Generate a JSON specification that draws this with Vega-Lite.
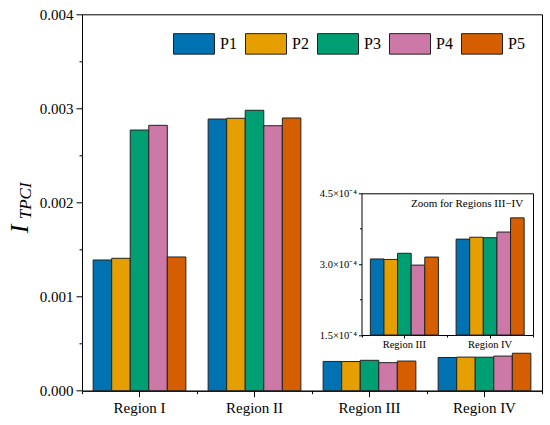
{
  "$schema": "https://vega.github.io/schema/vega-lite/v6.json",
  "width": 460,
  "height": 376.4,
  "autosize": {"type": "none"},
  "padding": {"left": 82, "top": 14.3, "right": 8, "bottom": 34.3},
  "background": "white",
  "config": {
    "font": "Liberation Serif",
    "view": {"stroke": "black", "strokeWidth": 1},
    "axis": {"grid": false, "domainColor": "black", "tickColor": "black", "labelColor": "black", "titleColor": "black", "domainWidth": 1, "tickWidth": 1, "labelFont": "Liberation Serif", "titleFont": "Liberation Serif", "labelFontWeight": "normal"},
    "legend": {"labelFont": "Liberation Serif", "labelFontWeight": "normal"},
    "text": {"font": "Liberation Serif"}
  },
  "data": {
    "values": [
      {"region": "Region I", "series": "P1", "value": 0.001389},
      {"region": "Region I", "series": "P2", "value": 0.001407},
      {"region": "Region I", "series": "P3", "value": 0.00277},
      {"region": "Region I", "series": "P4", "value": 0.00282},
      {"region": "Region I", "series": "P5", "value": 0.001421},
      {"region": "Region II", "series": "P1", "value": 0.002887},
      {"region": "Region II", "series": "P2", "value": 0.002895},
      {"region": "Region II", "series": "P3", "value": 0.00298},
      {"region": "Region II", "series": "P4", "value": 0.002816},
      {"region": "Region II", "series": "P5", "value": 0.002898},
      {"region": "Region III", "series": "P1", "value": 0.000311},
      {"region": "Region III", "series": "P2", "value": 0.00031},
      {"region": "Region III", "series": "P3", "value": 0.000323},
      {"region": "Region III", "series": "P4", "value": 0.000298},
      {"region": "Region III", "series": "P5", "value": 0.000315},
      {"region": "Region IV", "series": "P1", "value": 0.000353},
      {"region": "Region IV", "series": "P2", "value": 0.000357},
      {"region": "Region IV", "series": "P3", "value": 0.000356},
      {"region": "Region IV", "series": "P4", "value": 0.000368},
      {"region": "Region IV", "series": "P5", "value": 0.000398}
    ]
  },
  "layer": [
    {
      "mark": {"type": "bar", "stroke": "#222", "strokeWidth": 1},
      "encoding": {
        "x": {
          "field": "region", "type": "nominal",
          "scale": {"domain": ["Region I", "Region II", "Region III", "Region IV"], "paddingInner": 0, "paddingOuter": 0},
          "axis": {"orient": "bottom", "title": null, "labelAngle": 0, "tickSize": 6, "labelPadding": 4, "labelFontSize": 15, "labelFont": "Liberation Serif"}
        },
        "xOffset": {"field": "series", "type": "nominal", "scale": {"paddingInner": 0, "paddingOuter": 0.6}},
        "y": {
          "field": "value", "type": "quantitative",
          "scale": {"domain": [0, 0.004], "nice": false, "zero": true},
          "axis": {
            "orient": "left", "values": [0, 0.001, 0.002, 0.003, 0.004], "format": ".3f",
            "tickSize": 6, "labelPadding": 3, "labelFontSize": 15, "labelFont": "Liberation Serif",
            "title": "I", "titleFontSize": 26, "titleFontStyle": "italic", "titleFontWeight": "normal",
            "titleAngle": 270, "titleX": -55, "titleY": 214, "titleAlign": "center", "titleBaseline": "alphabetic"
          }
        },
        "color": {
          "field": "series", "type": "nominal",
          "scale": {"domain": ["P1", "P2", "P3", "P4", "P5"], "range": ["#0072B2", "#E69F00", "#009E73", "#CC79A7", "#D55E00"]},
          "legend": {
            "title": null, "orient": "none", "direction": "horizontal", "legendX": 91, "legendY": 8.2,
            "symbolType": "M-1,-0.5H1V0.5H-1Z", "symbolSize": 1681, "symbolStrokeColor": "#222", "symbolStrokeWidth": 1,
            "symbolOpacity": 1, "labelFontSize": 16, "labelFont": "Liberation Serif", "labelOffset": 5, "columnPadding": 6, "padding": 0, "labelColor": "black"
          }
        }
      }
    },
    {
      "mark": {"type": "point", "opacity": 0},
      "encoding": {
        "x": {
          "field": "region", "type": "nominal",
          "scale": {"domain": ["Region I", "Region II", "Region III", "Region IV"], "paddingInner": 0, "paddingOuter": 0},
          "axis": {"orient": "bottom", "tickBand": "extent", "tickSize": 3, "labels": false, "domain": false, "title": null}
        },
        "y": {
          "field": "value", "type": "quantitative",
          "scale": {"domain": [0, 0.004], "nice": false, "zero": true},
          "axis": {
            "orient": "left", "values": [0.0005, 0.0015, 0.0025, 0.0035], "tickSize": 3, "labels": false, "domain": false,
            "title": "TPCI", "titleFontSize": 17, "titleFontStyle": "italic", "titleFontWeight": "normal",
            "titleAngle": 270, "titleX": -52, "titleY": 186, "titleAlign": "center", "titleBaseline": "alphabetic"
          }
        }
      }
    },
    {
      "transform": [{"filter": {"field": "region", "oneOf": ["Region III", "Region IV"]}}],
      "mark": {"type": "bar", "stroke": "#222", "strokeWidth": 1},
      "encoding": {
        "x": {
          "field": "region", "type": "nominal",
          "scale": {"domain": ["Region III", "Region IV"], "range": [279.5, 451], "paddingInner": 0, "paddingOuter": 0},
          "axis": {"orient": "bottom", "offset": -55.7, "title": null, "labelAngle": 0, "tickSize": 3, "labelFontSize": 10.5, "labelFont": "Liberation Serif", "labelPadding": 1}
        },
        "xOffset": {"field": "series", "type": "nominal", "scale": {"paddingInner": 0, "paddingOuter": 0.65}},
        "y": {
          "field": "value", "type": "quantitative",
          "scale": {"domain": [0.00015, 0.00045], "range": [320.7, 179], "nice": false, "zero": false},
          "axis": {
            "orient": "left", "offset": -279.5, "values": [0.00015, 0.0003, 0.00045],
            "labelExpr": "format(datum.value*10000, '.1f') + '×10⁻⁴'",
            "tickSize": 3, "labelFontSize": 10.5, "labelFont": "Liberation Serif", "labelPadding": 2, "title": null
          }
        },
        "y2": {"datum": 0.00015},
        "color": {"field": "series", "type": "nominal"}
      }
    },
    {
      "transform": [{"filter": {"field": "region", "oneOf": ["Region III", "Region IV"]}}],
      "mark": {"type": "point", "opacity": 0},
      "encoding": {
        "x": {
          "field": "region", "type": "nominal",
          "scale": {"domain": ["Region III", "Region IV"], "range": [279.5, 451], "paddingInner": 0, "paddingOuter": 0},
          "axis": {"orient": "bottom", "offset": -55.7, "tickBand": "extent", "tickSize": 2, "labels": false, "domain": false, "title": null}
        },
        "y": {
          "field": "value", "type": "quantitative",
          "scale": {"domain": [0.00015, 0.00045], "range": [320.7, 179], "nice": false, "zero": false},
          "axis": {"orient": "left", "offset": -279.5, "values": [0.000225, 0.000375], "tickSize": 2, "labels": false, "domain": false, "title": null}
        }
      }
    },
    {
      "data": {"values": [{"label": "Zoom for Regions III−IV", "region": "Region IV", "value": 0.00045}]},
      "mark": {"type": "text", "align": "right", "baseline": "middle", "dx": 33, "dy": 11, "fontSize": 11, "font": "Liberation Serif", "color": "black"},
      "encoding": {
        "x": {
          "field": "region", "type": "nominal",
          "scale": {"domain": ["Region III", "Region IV"], "range": [279.5, 451], "paddingInner": 0, "paddingOuter": 0},
          "axis": {"orient": "top", "offset": -179, "ticks": false, "labels": false, "domain": true, "title": null}
        },
        "y": {
          "field": "value", "type": "quantitative",
          "scale": {"domain": [0.00015, 0.00045], "range": [320.7, 179], "nice": false, "zero": false},
          "axis": {"orient": "right", "offset": -9, "ticks": false, "labels": false, "domain": true, "title": null}
        },
        "text": {"field": "label"}
      }
    }
  ],
  "resolve": {
    "scale": {"x": "independent", "y": "independent", "xOffset": "independent"},
    "axis": {"x": "independent", "y": "independent"}
  }
}
